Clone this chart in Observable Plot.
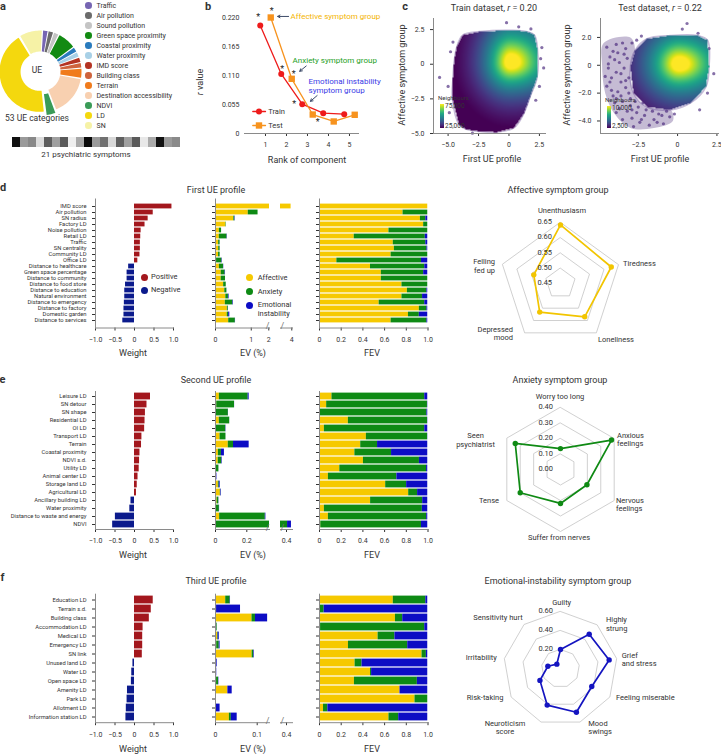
<!DOCTYPE html>
<html><head><meta charset="utf-8">
<script src="https://cdn.jsdelivr.net/npm/d3@7"></script>
<script src="https://cdn.jsdelivr.net/npm/@observablehq/plot@0.6"></script>
<style>
body{margin:0;background:#fff;}
#c{position:relative;width:721px;height:754px;overflow:hidden;font-family:Roboto,"Liberation Sans",sans-serif;color:#333;background:#fff;}
.t{position:absolute;white-space:nowrap;line-height:1.15;}
.dotk{position:absolute;border-radius:50%;}
</style></head><body><div id="c"></div><script>
// ---------------- DATA ----------------
// panel a
const ueGroups = ["Traffic","Air pollution","Sound pollution","Green space proximity","Coastal proximity","Water proximity","IMD score","Building class","Terrain","Destination accessibility","NDVI","LD","SN"];
const ueCounts = [1,1,1,4,1,1,1,1,2,9,2,24,5];
const ueColors = ["#7665b2","#6b6b6b","#c4c4c4","#128a12","#2a7bbd","#a8d0e6","#b53322","#cf633c","#f07b1c","#f8d0b0","#3a9b57","#f4d80e","#f6f2a6"];
const symptomGrays = ["#111","#9a9a9a","#888","#dcdcdc","#5e5e5e","#a0a0a0","#5a5a5a","#eee","#a8a8a8","#0a0a0a","#9a9a9a","#707070","#d8d8d8","#606060","#a0a0a0","#5a5a5a","#e8e8e8","#aaa","#111","#9a9a9a","#8a8a8a"];
// panel b
const ranks = [1,2,3,4,5];
const rTrain = [0.205,0.113,0.0556,0.0385,0.0366];
const rTest = [0.220,0.1037,0.036,0.0228,0.0355];
// panel c
const trainBoundary = [[-4.3,1.2],[-3.8,2.1],[-2.4,2.35],[0.3,2.45],[1.5,2.35],[2.1,2.1],[2.35,1.0],[2.3,-1.0],[1.8,-2.2],[1.2,-3.6],[0.4,-4.6],[-1,-4.9],[-2.4,-4.85],[-3.5,-4.7],[-4.1,-4.35],[-4.65,-2.45],[-4.6,-1],[-4.5,0.2]];
const trainOutliers = [[-5.7,-0.95],[-0.2,3.0],[2.7,1.2],[2.85,-0.27],[2.6,0.4],[-4.9,-3.5],[-4.8,0.9],[0.8,2.7],[1.8,2.55],[-3.0,-4.98],[2.2,-2.6],[-5.0,-1.6],[2.5,-1.6],[-4.6,1.6]];
const trainCore = {cx:0.15, cy:0.15, sxL:2.2, sxR:3.5, syU:2.75, syD:2.2};
const testBoundary = [[-2.7,1.07],[-1.94,1.9],[-0.45,2.14],[1.26,2.14],[1.9,1.8],[2.0,-0.1],[1.8,-1.55],[0.83,-2.7],[-0.45,-3.2],[-1.94,-3.0],[-2.8,-2.0],[-3.0,-0.1]];
const testSparseArea = [[-4.7,1.6],[-3.0,2.0],[-2.7,1.07],[-3.0,-0.1],[-2.8,-2.0],[-1.94,-3.0],[-0.45,-3.2],[-0.3,-4.0],[-1.5,-4.5],[-3.0,-4.5],[-4.0,-3.5],[-4.6,-2.0],[-4.8,0]];
const testSparse = [[-4.5,1.3],[-4.3,0.6],[-4.4,-0.2],[-4.2,-0.9],[-4.5,-1.5],[-4.1,-2.2],[-3.9,1.5],[-3.8,0.9],[-3.7,0.2],[-3.9,-0.5],[-3.6,-1.2],[-3.8,-1.9],[-3.5,-2.6],[-3.7,-3.1],[-3.3,1.2],[-3.2,0.5],[-3.4,-0.2],[-3.1,-0.9],[-3.3,-1.6],[-3.0,-2.4],[-3.2,-3.3],[-2.9,-3.8],[-2.6,-3.4],[-2.4,-4.1],[-2.1,-3.6],[-1.8,-4.3],[-1.5,-3.9],[-1.2,-3.5],[-0.9,-4.2],[-0.5,-3.7],[-2.8,-4.4],[-3.5,-3.9],[-4.0,-2.7],[-4.6,-0.8],[-2.9,1.6],[-2.6,1.8],[-2.3,2.1],[0.3,2.6],[0.6,3.0],[1.3,2.3],[2.0,1.2],[2.3,-0.6],[1.9,-2.0],[1.4,-3.2],[-3.0,-2.9],[-2.5,-3.0],[-2.2,-2.7],[-1.6,-3.3],[-4.0,0.4],[-4.3,-1.2],[-3.6,-0.6],[-3.4,0.8],[-3.1,-2.0],[-2.7,-2.6],[-2.0,-3.2],[-1.0,-3.6],[-0.2,-3.5],[-3.9,-2.4],[-4.4,0.1],[-4.1,1.0],[-3.5,1.6],[-3.3,-1.1],[-3.6,-2.2],[-2.9,-3.2],[-2.3,-3.9],[-1.3,-4.1],[-0.7,-3.3],[-3.9,-3.4],[-4.2,-1.8]];
const testCore = {cx:0.1, cy:0.1, sxL:2.1, sxR:2.9, syU:2.4, syD:2.3};
// panel d
const namesD = ["IMD score","Air pollution","SN radius","Factory LD","Noise pollution","Retail LD","Traffic","SN centrality","Community LD","Office LD","Distance to healthcare","Green space percentage","Distance to community","Distance to food store","Distance to education","Natural environment","Distance to emergency","Distance to factory","Domestic garden","Distance to services"];
const weightD = [0.96,0.48,0.35,0.27,0.17,0.16,0.15,0.15,0.14,0.085,-0.15,-0.19,-0.19,-0.23,-0.25,-0.25,-0.26,-0.27,-0.27,-0.30];
const evD = [3.95,1.19,0.55,0.30,0.17,0.33,0.13,0.13,0.13,0.19,0.23,0.28,0.28,0.30,0.32,0.38,0.50,0.36,0.40,0.56];
const affD = [1.00,0.77,0.93,0.96,0.64,0.32,0.68,0.69,0.66,0.16,0.47,0.57,0.57,0.76,0.81,0.76,0.55,0.92,0.82,0.66];
const anxD = [0.00,0.23,0.05,0.04,0.36,0.655,0.30,0.30,0.34,0.78,0.50,0.39,0.43,0.24,0.18,0.19,0.42,0.07,0.10,0.33];
const emoD = [0.00,0.00,0.02,0.00,0.00,0.025,0.02,0.01,0.00,0.06,0.03,0.04,0.00,0.00,0.01,0.05,0.03,0.01,0.08,0.01];
// panel e
const namesE = ["Leisure LD","SN detour","SN shape","Residential LD","OI LD","Transport LD","Terrain","Coastal proximity","NDVI s.d.","Utility LD","Animal center LD","Storage land LD","Agricultural LD","Ancillary building LD","Water proximity","Distance to waste and energy","NDVI"];
const weightE = [0.41,0.32,0.28,0.27,0.26,0.19,0.18,0.14,0.13,0.12,0.09,0.07,0.05,-0.09,-0.12,-0.49,-0.56];
const evE = [0.215,0.122,0.083,0.091,0.067,0.067,0.215,0.057,0.043,0.022,0.009,0.030,0.037,0.022,0.026,0.322,0.433];
const affE = [0.115,0.066,0.005,0.266,0.045,0.432,0.38,0.326,0.405,0.187,0.082,0.61,0.822,0.471,0.045,0.082,0.012];
const anxE = [0.855,0.929,0.985,0.73,0.925,0.565,0.155,0.338,0.516,0.80,0.631,0.193,0.082,0.48,0.903,0.906,0.928];
const emoE = [0.03,0.005,0.01,0.004,0.03,0.003,0.465,0.336,0.079,0.013,0.287,0.197,0.096,0.049,0.052,0.012,0.06];
// panel f
const namesF = ["Education LD","Terrain s.d.","Building class","Accommodation LD","Medical LD","Emergency LD","SN link","Unused land LD","Water LD","Open space LD","Amenity LD","Park LD","Allotment LD","Information station LD"];
const weightF = [0.48,0.43,0.38,0.22,0.21,0.21,0.20,-0.04,-0.07,-0.08,-0.18,-0.19,-0.21,-0.22];
const evF = [0.036,0.060,0.125,0.004,0.009,0.011,0.093,0.004,0.003,0.008,0.040,0.001,0.011,0.052];
const affF = [0.68,0.0,0.70,0.01,0.54,0.267,0.945,0.328,0.47,0.322,0.742,0.88,0.037,0.64];
const anxF = [0.30,0.043,0.067,0.96,0.155,0.546,0.04,0.064,0.01,0.58,0.0,0.12,0.04,0.09];
const emoF = [0.02,0.957,0.233,0.03,0.305,0.187,0.015,0.608,0.52,0.098,0.258,0.0,0.923,0.27];
// radar charts
const affLabels = ["Unenthusiasm","Tiredness","Loneliness","Depressed mood","Felling fed up"];
const affValues = [0.642,0.625,0.585,0.566,0.542];
const anxLabels = ["Worry too long","Anxious feelings","Nervous feelings","Suffer from nerves","Tense","Seen psychiatrist"];
const anxValues = [0.135,0.38,0.197,0.219,0.30,0.337];
const emoLabels = ["Guilty","Highly strung","Grief and stress","Feeling miserable","Mood swings","Neuroticism score","Risk-taking","Irritability","Sensitivity hurt"];
const emoValues = [0.20,0.47,0.52,0.38,0.49,0.41,0.25,0.135,0.06];

// ---------------- STYLE ----------------
const AFF = "#f6c900", ANX = "#0e8a14", EMO = "#0c0cc4";
const POS = "#a3171d", NEG = "#0b1a8c";
const RED = "#ee1b1b", ORANGE = "#f7931e";
const AX = "#8a8a8a";
const COMP_COLOR = {"Affective": AFF, "Anxiety": ANX, "Emotional instability": EMO};
const FONT = "Roboto, 'Liberation Sans', sans-serif";
const base = {fontFamily: FONT, fontSize: "7px", color: "#333", background: "transparent", overflow: "visible"};
const C = document.getElementById("c");

function put(svg, x, y) { svg.style.position = "absolute"; svg.style.left = x + "px"; svg.style.top = y + "px"; C.appendChild(svg); return svg; }
function T(html, x, y, o = {}) {
  const d = document.createElement("div");
  d.className = "t"; d.innerHTML = html;
  d.style.left = x + "px"; d.style.top = y + "px";
  d.style.fontSize = (o.size || 8) + "px";
  if (o.color) d.style.color = o.color;
  if (o.bold) d.style.fontWeight = "bold";
  if (o.align) d.style.textAlign = o.align;
  if (o.lh) d.style.lineHeight = o.lh;
  const tx = o.anchor === "middle" ? "-50%" : o.anchor === "end" ? "-100%" : "0";
  d.style.transform = `translate(${tx},-50%)` + (o.rotate ? ` rotate(${o.rotate}deg)` : "");
  C.appendChild(d); return d;
}
function K(x, y, r, color) {
  const d = document.createElement("div"); d.className = "dotk";
  d.style.left = (x - r) + "px"; d.style.top = (y - r) + "px"; d.style.width = d.style.height = (2 * r) + "px";
  d.style.background = color; C.appendChild(d);
}
function fontFix(svg, label, size) { svg.querySelectorAll(`[aria-label="${label}"]`).forEach(g => g.setAttribute("font-size", size)); }
const fmt1 = d => d === 0 ? "0" : (d < 0 ? "\u2212" : "") + Math.abs(d).toFixed(1);

// ---------------- PANEL A ----------------
{
  const cx = 40, cy = 71, R = 40, r0 = 19;
  const arcs = d3.pie().sort(null).startAngle(0.05).endAngle(0.05 + 2 * Math.PI).padAngle(0.025)(ueCounts);
  const marks = arcs.map((a, i) => {
    const e = ueGroups[i] === "NDVI" ? 4 : 1;
    const m = (a.startAngle + a.endAngle) / 2;
    const ox = e * Math.sin(m), oy = -e * Math.cos(m);
    const a0 = a.startAngle + a.padAngle / 2, a1 = a.endAngle - a.padAngle / 2;
    const n = Math.max(2, Math.ceil((a1 - a0) / 0.04));
    const pts = [];
    for (let k = 0; k <= n; k++) { const t = a0 + (a1 - a0) * k / n; pts.push({x: cx + ox + R * Math.sin(t), y: cy + oy - R * Math.cos(t)}); }
    for (let k = n; k >= 0; k--) { const t = a0 + (a1 - a0) * k / n; pts.push({x: cx + ox + r0 * Math.sin(t), y: cy + oy - r0 * Math.cos(t)}); }
    return Plot.line(pts, {x: "x", y: "y", fill: ueColors[i], stroke: "none", curve: "linear-closed"});
  });
  const svg = Plot.plot({width: 92, height: 96, margin: 0, style: base,
    x: {domain: [0, 92], range: [0, 92], axis: null}, y: {domain: [23, 119], range: [0, 96], axis: null}, marks});
  put(svg, 0, 23);
  T("UE", 37, 71, {size: 8.5, anchor: "middle"});
  T("53 UE categories", 37, 119, {size: 8.5, anchor: "middle"});
  ueGroups.forEach((g, i) => { K(88.3, 5.7 + 10 * i, 3.3, ueColors[i]); T(g, 96.5, 5.7 + 10 * i, {size: 7}); });
  const cells = symptomGrays.map((g, i) => ({i, g}));
  const strip = Plot.plot({width: 178, height: 10, margin: 0, style: base,
    x: {domain: d3.range(21), padding: 0, axis: null}, color: {type: "identity"},
    marks: [Plot.cell(cells, {x: "i", fill: "g"})]});
  put(strip, 7, 137);
  T("21 psychiatric symptoms", 86, 155, {size: 8, anchor: "middle"});
}

// ---------------- PANEL B ----------------
{
  const tr = ranks.map((k, i) => ({rank: k, r: rTrain[i]}));
  const te = ranks.map((k, i) => ({rank: k, r: rTest[i]}));
  const xt = d => d.rank - 0.25, xe = d => d.rank + 0.25;
  const star = (d, xf, dx, dy) => Plot.text([d], {x: xf, y: "r", text: () => "*", dx, dy, fontSize: 9, fill: "#222"});
  const svg = Plot.plot({
    width: 180, height: 172, marginLeft: 49, marginRight: 17, marginTop: 17, marginBottom: 39, style: base,
    x: {domain: [0, 5.43], ticks: [1, 2, 3, 4, 5], tickFormat: d => String(d), tickSize: 3, label: null},
    y: {domain: [0, 0.22], ticks: [0, 0.055, 0.11, 0.165, 0.22], tickFormat: d => d === 0 ? "0" : d.toFixed(3), tickSize: 0, tickPadding: 5, label: null},
    marks: [
      Plot.frame({anchor: "bottom", stroke: AX}),
      Plot.line(tr, {x: xt, y: "r", stroke: RED, strokeWidth: 1.3}),
      Plot.line(te, {x: xe, y: "r", stroke: ORANGE, strokeWidth: 1.3}),
      Plot.dot(tr, {x: xt, y: "r", r: 3, fill: RED}),
      Plot.dot(te, {x: xe, y: "r", r: 3.6, symbol: "square", fill: ORANGE}),
      star(tr[0], xt, -2, -8), star(te[0], xe, 1, -6), star(tr[1], xt, 1, -5),
      star(te[1], xe, 2, -5), star(tr[2], xt, -8, 0), star(te[2], xe, 5, 8),
      Plot.text([{x: 2.19, y: 0.222, t: "Affective symptom group", c: "#f4b400"}, {x: 2.29, y: 0.138, t: "Anxiety symptom group", c: "#24a024"}, {x: 3.05, y: 0.099, t: "Emotional instability", c: "#3a3ae6"}, {x: 3.05, y: 0.082, t: "symptom group", c: "#3a3ae6"}],
        {x: "x", y: "y", text: "t", fill: "c", textAnchor: "start", fontSize: 8}),
      Plot.arrow([{x1: 2.10, y1: 0.222, x2: 1.58, y2: 0.222}, {x1: 2.94, y1: 0.128, x2: 2.63, y2: 0.118}, {x1: 3.46, y1: 0.072, x2: 3.14, y2: 0.061}],
        {x1: "x1", y1: "y1", x2: "x2", y2: "y2", stroke: "#3c4a68", strokeWidth: 1, headLength: 4}),
      Plot.line([{x: 0.395, y: 0.0417}, {x: 1.0, y: 0.0417}], {x: "x", y: "y", stroke: RED, strokeWidth: 1.3}),
      Plot.dot([{x: 0.69, y: 0.0417}], {x: "x", y: "y", r: 3, fill: RED}),
      Plot.line([{x: 0.395, y: 0.0152}, {x: 1.0, y: 0.0152}], {x: "x", y: "y", stroke: ORANGE, strokeWidth: 1.3}),
      Plot.dot([{x: 0.69, y: 0.0152}], {x: "x", y: "y", r: 3.6, symbol: "square", fill: ORANGE}),
      Plot.text([{x: 1.13, y: 0.0417, t: "Train"}, {x: 1.13, y: 0.0152, t: "Test"}], {x: "x", y: "y", text: "t", textAnchor: "start", fontSize: 7.5, fill: "#333"})
    ]
  });
  put(svg, 195, 0);
  T("<i>r</i> value", 200, 82, {size: 9, anchor: "middle", rotate: -90});
  T("Rank of component", 307, 160, {size: 9, anchor: "middle"});
}

// ---------------- PANEL C ----------------
function dens(p, poly) {
  return (x, y) => {
    if (!d3.polygonContains(poly, [x, y])) return NaN;
    const dx = x - p.cx, dy = y - p.cy;
    const u = dx / (dx < 0 ? p.sxL : p.sxR), v = dy / (dy < 0 ? p.syD : p.syU);
    return Math.exp(-1.1 * Math.pow(Math.hypot(u, v), 1.3));
  };
}
function scatterPlot(o) {
  const pre = [];
  if (o.area) pre.push(Plot.line(o.area.map(([x, y]) => ({x, y})), {x: "x", y: "y", curve: "catmull-rom-closed", fill: "#3f1f72", fillOpacity: 0.3, stroke: "none"}));
  const svg = Plot.plot({
    width: o.w, height: 172, marginLeft: o.ml, marginRight: o.mr, marginTop: 18, marginBottom: 39, style: base,
    x: {domain: o.xd, ticks: o.xt, tickFormat: fmt1, tickSize: 3, label: null},
    y: {domain: o.yd, ticks: o.yt, tickFormat: fmt1, tickSize: 3, label: null},
    color: {type: "sequential", scheme: "viridis", domain: [0.05, 0.86]},
    marks: [
      ...pre,
      Plot.dot(o.out.map(([x, y]) => ({x, y})), {x: "x", y: "y", r: 1.6, fill: "#45237a", fillOpacity: 0.65}),
      Plot.line(o.poly.map(([x, y]) => ({x, y})), {x: "x", y: "y", curve: "catmull-rom-closed", stroke: "#5c3c90", strokeOpacity: 0.35, strokeWidth: 1.6, fill: "none"}),
      Plot.raster({fill: dens(o.core, o.poly), x1: o.xd[0], x2: o.xd[1], y1: o.yd[0], y2: o.yd[1], pixelSize: 1}),
      Plot.frame({anchor: "left", stroke: AX}),
      Plot.frame({anchor: "bottom", stroke: AX})
    ]
  });
  return put(svg, o.left, 0);
}
function colorbar(x, y0, y1, hi, lo) {
  const d = document.createElement("div");
  d.style.cssText = `position:absolute;left:${x}px;top:${y0}px;width:4px;height:${y1 - y0}px;background:linear-gradient(to top,${d3.range(0, 1.01, 0.1).map(t => d3.interpolateViridis(t)).join(",")});`;
  C.appendChild(d);
  T("Neighbours", x - 2, y0 - 6, {size: 6});
  T(hi, x + 5, y0 + 3, {size: 6.5});
  T(lo, x + 5, y1 - 1, {size: 6.5});
}
scatterPlot({left: 370, w: 185, ml: 63, mr: 10, xd: [-6.2, 3.0], yd: [-5, 3.3], xt: [-5, -2.5, 0, 2.5], yt: [-5, -2.5, 0, 2.5], poly: trainBoundary, out: trainOutliers, core: trainCore});
scatterPlot({left: 555, w: 166, ml: 45, mr: 3, xd: [-4.9, 2.6], yd: [-4.9, 3.36], xt: [-2.5, 0, 2.5], yt: [-4, -2, 0, 2], poly: testBoundary, out: testSparse, core: testCore, area: testSparseArea});
colorbar(440, 104, 128, "75,000", "25,000");
colorbar(607, 106, 128, "10,000", "2,500");
T("Train dataset, <i>r</i> = 0.20", 494, 7.5, {size: 9, anchor: "middle"});
T("Test dataset, <i>r</i> = 0.22", 660, 7.5, {size: 9, anchor: "middle"});
T("Affective symptom group", 402, 75, {size: 9, anchor: "middle", rotate: -90});
T("Affective symptom group", 567, 75, {size: 9, anchor: "middle", rotate: -90});
T("First UE profile", 492, 159, {size: 9, anchor: "middle"});
T("First UE profile", 660, 159, {size: 9, anchor: "middle"});

// ---------------- BAR PANELS ----------------
function longRows(names, ev, aff, anx, emo) {
  const out = [];
  names.forEach((n, i) => {
    [["Affective", aff[i]], ["Anxiety", anx[i]], ["Emotional instability", emo[i]]].forEach(([c, f]) => out.push({name: n, comp: c, frac: f, ev: ev[i] * f}));
  });
  return out;
}
function weightPlot(names, w, top, height, mt, mb) {
  const data = names.map((n, i) => ({name: n, w: w[i]}));
  const svg = Plot.plot({
    width: 180, height, marginLeft: 95, marginRight: 7, marginTop: mt, marginBottom: mb, style: base,
    x: {domain: [-1, 1], ticks: [-1, -0.5, 0, 0.5, 1], tickFormat: fmt1, tickSize: 3, label: null},
    y: {domain: names, padding: 0, tickSize: 3, tickPadding: 6, label: null},
    color: {type: "identity"},
    marks: [
      Plot.barX(data, {x: "w", y: "name", fill: d => d.w > 0 ? POS : NEG, insetTop: 0.6, insetBottom: 0.6}),
      Plot.frame({anchor: "bottom", stroke: AX}),
      Plot.frame({anchor: "left", stroke: AX})
    ]
  });
  fontFix(svg, "y-axis tick label", 5.8);
  return put(svg, 0, top);
}
function evPlot(long, names, field, dom, ticks, fmt, x0, x1, top, height, mt, mb, withAxis, slash) {
  const L = 6, R = 6;
  const marks = [
    Plot.barX(long, {x: field, y: "name", fill: d => COMP_COLOR[d.comp], insetTop: 0.6, insetBottom: 0.6, clip: true}),
    Plot.frame({anchor: "bottom", stroke: AX})
  ];
  if (withAxis) marks.push(Plot.frame({anchor: "left", stroke: AX}));
  if (slash) marks.push(Plot.text(["/"], {frameAnchor: slash, text: d => d, fontSize: 9, fill: "#777", dy: 1}));
  const svg = Plot.plot({
    width: (x1 - x0) + L + R, height, marginLeft: L, marginRight: R, marginTop: mt, marginBottom: mb, style: base,
    x: {domain: dom, ticks, tickFormat: fmt, tickSize: 3, label: null},
    y: {domain: names, padding: 0, axis: withAxis ? "left" : null, tickSize: 3, tickFormat: () => "", label: null},
    color: {type: "identity"},
    marks
  });
  return put(svg, x0 - L, top);
}
function barRow(names, w, ev, aff, anx, emo, top, height, mt, mb, evLeft, evRight) {
  const long = longRows(names, ev, aff, anx, emo);
  weightPlot(names, w, top, height, mt, mb);
  evPlot(long, names, "ev", evLeft.dom, evLeft.ticks, evLeft.fmt, 215, 269, top, height, mt, mb, true, "bottom-right");
  evPlot(long, names, "ev", evRight.dom, evRight.ticks, evRight.fmt, 280, 292, top, height, mt, mb, false, "bottom-left");
  evPlot(long, names, "frac", [0, 1], [0, 0.2, 0.4, 0.6, 0.8, 1], d => d === 0 ? "0" : d.toFixed(1), 318.5, 427, top, height, mt, mb, true, null);
}
// d: rows 198.5..327.5
barRow(namesD, weightD, evD, affD, anxD, emoD, 190, 160, 8.5, 160 - (327.5 - 190),
  {dom: [0, 1.51], ticks: [0, 1, 1.49], fmt: d => d === 0 ? "0" : d === 1 ? "1" : "2"},
  {dom: [3.2, 4.05], ticks: [4], fmt: d => "4"});
// e: rows 391..529
barRow(namesE, weightE, evE, affE, anxE, emoE, 385, 165, 6, 165 - (529 - 385),
  {dom: [0, 0.345], ticks: [0, 0.2], fmt: d => d === 0 ? "0" : d.toFixed(1)},
  {dom: [0.36, 0.44], ticks: [0.4], fmt: d => "0.4"});
// f: rows 593.7..722.2
barRow(namesF, weightF, evF, affF, anxF, emoF, 588, 155, 5.7, 155 - (722.2 - 588),
  {dom: [0, 0.1295], ticks: [0, 0.1], fmt: d => d === 0 ? "0" : d.toFixed(1)},
  {dom: [0.37, 0.43], ticks: [0.4], fmt: d => "0.4"});

[353, 555, 749].forEach(y => {
  T("Weight", 133, y, {size: 9, anchor: "middle"});
  T("EV (%)", 253, y, {size: 9, anchor: "middle"});
  T("FEV", 372, y, {size: 9, anchor: "middle"});
});
T("First UE profile", 216, 190, {size: 9, anchor: "middle"});
T("Second UE profile", 216, 380, {size: 9, anchor: "middle"});
T("Third UE profile", 216, 581, {size: 9, anchor: "middle"});
K(144, 277, 3.5, POS); T("Positive", 151, 277, {size: 7.5});
K(144, 290, 3.5, NEG); T("Negative", 151, 290, {size: 7.5});
K(249.3, 277.7, 3.5, AFF); T("Affective", 257.7, 277.7, {size: 7.5});
K(249.3, 291.7, 3.5, ANX); T("Anxiety", 257.7, 291.7, {size: 7.5});
K(249.3, 305, 3.5, EMO); T("Emotional", 257.7, 305, {size: 7.5}); T("instability", 257.7, 314.3, {size: 7.5});

// ---------------- RADARS ----------------
function radar(labels, values, domain, R, cx, cy, rings, color) {
  const rs = d3.scaleLinear(domain, [0, R]);
  const n = labels.length;
  const ang = i => -Math.PI / 2 + i * 2 * Math.PI / n;
  const ringPts = rings.flatMap(v => labels.map((_, i) => ({ring: v, x: cx + rs(v) * Math.cos(ang(i)), y: cy + rs(v) * Math.sin(ang(i))})));
  const pts = values.map((v, i) => ({label: labels[i], v, x: cx + rs(v) * Math.cos(ang(i)), y: cy + rs(v) * Math.sin(ang(i))}));
  const W = 170, H = 170;
  const svg = Plot.plot({
    width: W, height: H, margin: 0, style: base,
    x: {domain: [cx - W / 2, cx + W / 2], range: [0, W], axis: null},
    y: {domain: [cy - H / 2, cy + H / 2], range: [0, H], axis: null},
    marks: [
      Plot.line(ringPts, {x: "x", y: "y", z: "ring", curve: "linear-closed", stroke: "#c4c4c4", strokeWidth: 0.8}),
      Plot.line(pts, {x: "x", y: "y", curve: "linear-closed", stroke: color, strokeWidth: 1.7}),
      Plot.dot(pts, {x: "x", y: "y", r: 2.7, fill: color})
    ]
  });
  put(svg, cx - W / 2, cy - H / 2);
  return rs;
}
{
  const rs = radar(affLabels, affValues, [0.45, 0.65], 61, 560, 283, [0.50, 0.55, 0.60, 0.65], "#f2c500");
  [0.65, 0.60, 0.55, 0.50, 0.45].forEach(v => T(v.toFixed(2), 552, 283 - rs(v), {size: 7.5, anchor: "end"}));
  T("Affective symptom group", 558, 189.5, {size: 9, anchor: "middle"});
  T("Unenthusiasm", 562, 211, {size: 7.5, anchor: "middle"});
  T("Tiredness", 623, 264, {size: 7.5});
  T("Loneliness", 598, 340, {size: 7.5});
  T("Depressed<br>mood", 513, 334.5, {size: 7.5, anchor: "end", align: "right"});
  T("Felling<br>fed up", 495, 267, {size: 7.5, anchor: "end", align: "right"});
}
{
  const rs = radar(anxLabels, anxValues, [0, 0.4], 62, 559.5, 469.3, [0.1, 0.2, 0.3, 0.4], "#0f8a14");
  [0.4, 0.3, 0.2, 0.1, 0].forEach(v => T(v.toFixed(2), 553, 469.3 - rs(v), {size: 7.5, anchor: "end"}));
  T("Anxiety symptom group", 560, 380, {size: 9, anchor: "middle"});
  T("Worry too long", 560, 396.5, {size: 7.5, anchor: "middle"});
  T("Anxious<br>feelings", 617, 440.5, {size: 7.5});
  T("Nervous<br>feelings", 616, 505.5, {size: 7.5});
  T("Suffer from nerves", 559, 538, {size: 7.5, anchor: "middle"});
  T("Tense", 499, 501, {size: 7.5, anchor: "end"});
  T("Seen<br>psychiatrist", 475.5, 441, {size: 7.5, anchor: "middle", align: "center"});
}
{
  const rs = radar(emoLabels, emoValues, [0, 0.6], 57, 560, 668, [0.2, 0.4, 0.6], "#1414c0");
  [0.6, 0.4, 0.2].forEach(v => T(v.toFixed(2), 553, 668 - rs(v), {size: 7.5, anchor: "end"}));
  T("Emotional-instability symptom group", 558, 581, {size: 9, anchor: "middle"});
  T("Guilty", 561.7, 603.3, {size: 7.5, anchor: "middle"});
  T("Highly<br>strung", 606, 625, {size: 7.5});
  T("Grief<br>and stress", 621.7, 660.5, {size: 7.5});
  T("Feeling miserable", 616, 698.3, {size: 7.5});
  T("Mood<br>swings", 588.3, 728.7, {size: 7.5});
  T("Neuroticism<br>score", 505, 728.5, {size: 7.5, anchor: "middle", align: "center"});
  T("Risk-taking", 466.7, 698, {size: 7.5});
  T("Irritability", 465.7, 658, {size: 7.5});
  T("Sensitivity hurt", 473.3, 618, {size: 7.5});
}

// panel letters
[["a", 3, 7], ["b", 208, 7], ["c", 405, 7], ["d", 3, 188], ["e", 2.5, 379.5], ["f", 2.5, 577.5]].forEach(([l, x, y]) => T(l, x, y, {size: 11, bold: true, anchor: "middle"}));
</script></body></html>
